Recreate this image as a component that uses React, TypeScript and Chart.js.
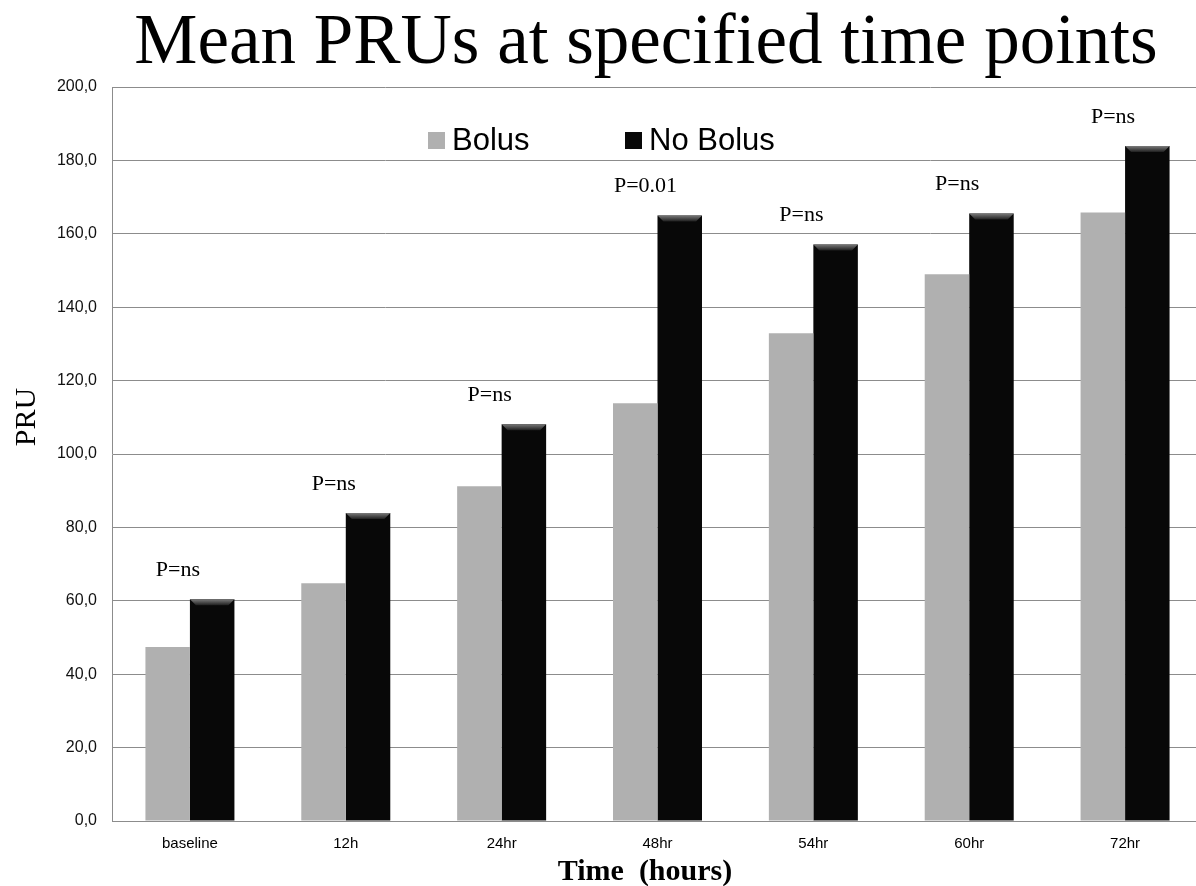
import React, { useEffect, useRef } from "react";
import { Chart, registerables } from "chart.js";

Chart.register(...registerables);

const categories = ["baseline", "12h", "24hr", "48hr", "54hr", "60hr", "72hr"];
const bolus = [47.4, 64.8, 91.2, 113.8, 132.9, 149.0, 165.8];
const noBolus = [60.4, 83.9, 108.1, 165.0, 157.1, 165.5, 183.9];
const pLabels = ["P=ns", "P=ns", "P=ns", "P=0.01", "P=ns", "P=ns", "P=ns"];
const seriesNames = ["Bolus", "No Bolus"];
const titleText = "Mean PRUs at specified time points";
const yTitle = "PRU";
const xTitle = "Time  (hours)";

const SERIF = '"Liberation Serif", "Times New Roman", serif';
const SANS = '"Liberation Sans", Arial, sans-serif';

const decorPlugin = {
  id: "decor",
  afterDatasetsDraw(chart: any) {
    const ctx = chart.ctx;
    const meta = chart.getDatasetMeta(1);
    meta.data.forEach((bar: any) => {
      const w = bar.width;
      const left = bar.x - w / 2;
      const right = bar.x + w / 2;
      const top = bar.y;
      const d = 6;
      ctx.save();
      const g = ctx.createLinearGradient(0, top, 0, top + d);
      g.addColorStop(0, "#7a7a7a");
      g.addColorStop(1, "#1e1e1e");
      ctx.fillStyle = g;
      ctx.beginPath();
      ctx.moveTo(left, top);
      ctx.lineTo(right, top);
      ctx.lineTo(right - d, top + d);
      ctx.lineTo(left + d, top + d);
      ctx.closePath();
      ctx.fill();
      ctx.restore();
    });
    const m0 = chart.getDatasetMeta(0);
    ctx.save();
    ctx.font = `22px ${SERIF}`;
    ctx.fillStyle = "#000";
    ctx.textAlign = "center";
    ctx.textBaseline = "middle";
    pLabels.forEach((t, i) => {
      const b0 = m0.data[i];
      const b1 = meta.data[i];
      const cx = (b0.x + b1.x) / 2 - 12;
      const top = Math.min(b0.y, b1.y);
      ctx.fillText(t, cx, top - 29);
    });
    ctx.restore();
  },
  afterDraw(chart: any) {
    const ctx = chart.ctx;
    ctx.save();
    ctx.fillStyle = "#000";
    ctx.font = `71px ${SERIF}`;
    ctx.textAlign = "center";
    ctx.textBaseline = "alphabetic";
    ctx.fillText(titleText, 646, 63);
    ctx.font = `bold 30px ${SERIF}`;
    ctx.fillText(xTitle, 645, 880);
    ctx.save();
    ctx.translate(27, 417);
    ctx.rotate(-Math.PI / 2);
    ctx.font = `30px ${SERIF}`;
    ctx.textBaseline = "middle";
    ctx.fillText(yTitle, 0, 0);
    ctx.restore();
    ctx.font = `31px ${SANS}`;
    ctx.textAlign = "left";
    ctx.textBaseline = "middle";
    const legendItems = [
      { x: 428, color: "#b0b0b0" },
      { x: 625, color: "#080808" },
    ];
    legendItems.forEach((it, i) => {
      ctx.fillStyle = it.color;
      ctx.fillRect(it.x, 132, 17, 17);
      ctx.fillStyle = "#000";
      ctx.fillText(seriesNames[i], it.x + 24, 141);
    });
    ctx.restore();
  },
};

export default function App() {
  const ref = useRef<HTMLCanvasElement | null>(null);
  useEffect(() => {
    if (!ref.current) return;
    const chart = new Chart(ref.current, {
      type: "bar",
      data: {
        labels: categories,
        datasets: [
          {
            label: seriesNames[0],
            data: bolus,
            backgroundColor: "#b0b0b0",
            barPercentage: 1,
            categoryPercentage: 0.571,
          },
          {
            label: seriesNames[1],
            data: noBolus,
            backgroundColor: "#080808",
            barPercentage: 1,
            categoryPercentage: 0.571,
          },
        ],
      },
      options: {
        responsive: false,
        animation: false,
        devicePixelRatio: 1,
        layout: { padding: { top: 87, right: 7, left: 0, bottom: 0 } },
        plugins: {
          legend: { display: false },
          title: { display: false },
          tooltip: { enabled: false },
        },
        scales: {
          x: {
            grid: { display: false, drawTicks: false },
            border: { color: "#8c8c8c", width: 1 },
            ticks: {
              color: "#000",
              font: { family: SANS, size: 15 },
              padding: 14,
              maxRotation: 0,
            },
            afterFit: (s: any) => {
              s.height = 65;
            },
          },
          y: {
            min: 0,
            max: 200,
            grid: { color: "#8c8c8c", lineWidth: 1, drawTicks: false },
            border: { color: "#8c8c8c", width: 1 },
            ticks: {
              stepSize: 20,
              color: "#111",
              font: { family: SANS, size: 16 },
              padding: 15,
              callback: (v: any) => Number(v).toFixed(1).replace(".", ","),
            },
            afterFit: (s: any) => {
              s.width = 112;
            },
          },
        },
      },
      plugins: [decorPlugin],
    });
    return () => chart.destroy();
  }, []);
  return (
    <div
      style={{
        position: "fixed",
        left: 0,
        top: 0,
        width: 1196,
        height: 886,
        overflow: "hidden",
        background: "#fff",
      }}
    >
      <canvas ref={ref} width={1210} height={886} style={{ display: "block" }} />
    </div>
  );
}
